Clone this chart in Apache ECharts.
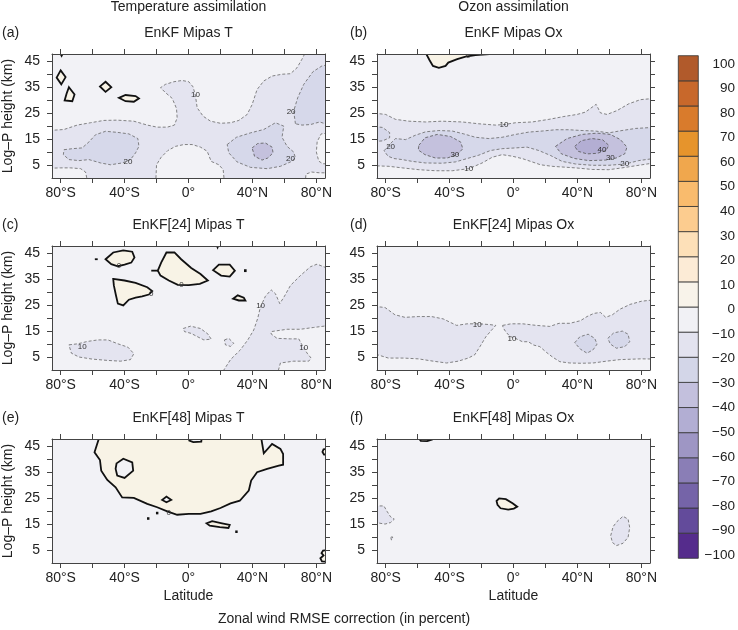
<!DOCTYPE html>
<html lang="en">
<head>
<meta charset="UTF-8">
<title>Zonal wind RMSE correction</title>
<script src="https://cdn.jsdelivr.net/npm/echarts@6/dist/echarts.min.js"></script>
<style>
  html, body { margin: 0; padding: 0; background: #fff; }
  #chart { width: 738px; height: 630px; }
</style>
</head>
<body>
<div id="chart"></div>
<script>
// axis ticks / labels
var latTicks = [-80, -60, -40, -20, 0, 20, 40, 60, 80];
var latLabels = [-80, -40, 0, 40, 80];
var kmTicks = [5, 10, 15, 20, 25, 30, 35, 40, 45];
var kmLabels = [5, 15, 25, 35, 45];
var cbLevels = [-100, -90, -80, -70, -60, -50, -40, -30, -20, -10, 0, 10, 20, 30, 40, 50, 60, 70, 80, 90];
var cbColors = ['#552c8c', '#634b9b', '#7564a8', '#8a7eb6', '#9e96c4', '#b2aed3', '#c3c0dd', '#d3d6e8', '#e3e3ef', '#f1f1f5',
                '#f8f3ea', '#fcebd6', '#fde0b8', '#fccc8f', '#f9bb6d', '#f0a74d', '#e6942c', '#d97b2c', '#c8682b', '#b15a2b'];

// contour regions, [latitude, km]
// (a) EnKF Mipas T
var aM10 = [[[-90,18.2],[-77.9,18.7],[-69.6,20.4],[-61.3,21.3],[-52.9,22.2],[-44.6,22.3],[-34.2,21.9],[-25.8,20.4],[-19.6,19.6],[-13.3,19.6],[-8.8,20.4],[-7.1,23.2],[-7.5,26.8],[-10.2,30.7],[-14.4,32.9],[-17.5,34.8],[-14.4,36.1],[-9.2,37.1],[-4.0,37.6],[0.2,37.1],[2.9,35.1],[4.4,31.6],[5.4,27.1],[9.2,23.8],[13.8,21.9],[20.0,21.1],[26.3,21.3],[31.5,22.2],[36.7,24.5],[39.8,28.3],[42.9,34.1],[47.1,37.4],[52.3,39.3],[58.5,40.0],[63.8,40.2],[67.9,42.5],[71.0,45.8],[74.5,50],[90,50],[90,-2],[-90,-2]]];
var aHole = [
  [[-90,3.7],[-80,3.9],[-73.8,3.9],[-67.5,3.6],[-64.4,2.3],[-63,-2],[-90,-2]],
  [[-20.5,-2],[-20.0,5.1],[-17.1,8.0],[-12.9,10.6],[-8.1,12.2],[-2.9,12.9],[2.3,12.9],[7.5,11.9],[11.7,10.3],[14.2,6.4],[19.0,5.1],[21.7,3.2],[22.5,-2]],
  [[90,17.5],[83,17.0],[80.5,14],[80,10],[81.5,6.5],[84,5.5],[90,5.5]],
  [[73,-2],[73.5,1.5],[77,2.3],[82,2.0],[90,2.0],[90,-2]]
];
var aM20 = [
  [[-77.9,10.9],[-72.7,11.3],[-66.5,11.6],[-62.3,13.9],[-58.1,16.7],[-51.9,18.0],[-44.6,17.6],[-37.3,17.0],[-31.7,15.2],[-31.0,12.2],[-33.1,9.7],[-36.3,7.1],[-41.5,5.8],[-48.8,5.1],[-55.0,5.8],[-62.3,7.1],[-68.5,6.7],[-74.8,7.1],[-78.3,9.0]],
  [[24.2,12.9],[30.0,15.7],[38.8,17.4],[47.1,18.7],[54.4,21.3],[59.6,20.0],[58.5,15.7],[61.7,12.2],[65.8,10.0],[66.9,7.7],[63.8,6.2],[57.5,4.5],[49.2,3.6],[38.8,4.1],[30.4,6.2],[25.2,9.7]],
  [[66.9,20.9],[65.8,25.8],[68.3,30.9],[72.1,36.1],[77.9,41.0],[83.5,43.2],[90,44],[90,20],[82.1,21.6],[76.3,20.6],[71.0,20.4]]
];
var aM30 = [[[39.8,11.6],[43.3,13.3],[48.1,13.5],[52.3,11.9],[52.9,9.7],[49.6,7.7],[46.0,6.9],[41.3,8.4]]];
var aPos = [
  [[-80,41.5],[-76.9,38.9],[-79.6,36.1],[-82.5,38.7]],
  [[-74.8,35.0],[-71.3,32.2],[-72.7,29.6],[-77.5,29.9],[-76.3,32.5]],
  [[-51.9,37.1],[-48.3,35.0],[-51.9,33.2],[-55.4,35.3]],
  [[-43.5,30.9],[-39.4,32.0],[-33.1,31.6],[-31.0,30.7],[-34.2,29.4],[-39.4,29.6]],
  [[-80.6,48.5],[-79.4,47.1],[-78.2,48.5]]
];
var aLab = [[4.4,32.2,'10'],[-37.9,6.4,'20'],[63.8,7.5,'20'],[64.2,25.5,'20']];

// (b) EnKF Mipas Ox
var bM10 = [[[-90,25.2],[-80,24.5],[-73.8,22.6],[-65.4,21.9],[-55,21.6],[-44.6,21.9],[-32.1,21.6],[-21.7,20.9],[-11.3,20.4],[-6.0,20.6],[1.3,21.3],[11.7,21.6],[22.1,22.6],[31.5,23.7],[39.8,24.5],[45.0,25.4],[48.1,26.8],[51.7,28.4],[54.4,25.1],[58.5,24.5],[64.8,26.0],[72.1,28.6],[79.4,30.2],[90,30.8],
             [90,5.7],[86.7,5.7],[77.3,4.8],[67.9,3.9],[59.6,3.2],[49.2,3.3],[38.8,3.9],[24.2,4.5],[16.9,5.1],[11.7,6.2],[5.4,7.5],[-0.8,8.4],[-7.1,9.0],[-13.3,8.0],[-19.6,5.8],[-27.9,3.6],[-38.3,2.8],[-48.8,2.8],[-59.2,3.2],[-69.6,3.9],[-77.9,4.5],[-90,4.8]]];
var bM20 = [
  [[-90,20],[-82,19.5],[-77.5,17.5],[-77.5,15.5],[-82,14.3],[-90,14]],
  [[-81,10.5],[-78.5,12.2],[-75.5,14.2],[-73.8,15.2],[-67.5,14.8],[-61.3,16.5],[-55,17.8],[-46.7,18.3],[-38.3,18.1],[-31.1,17.0],[-23.8,15.7],[-15.4,15.2],[-7.1,15.7],[1.3,16.8],[9.6,17.7],[17.9,18.1],[26.3,18.6],[34.6,18.6],[42.9,18.3],[51.3,18.1],[59.6,17.4],[67.9,18.3],[76.3,19.1],[90,19.6],
   [90,7.7],[78.3,6.7],[70.0,5.4],[59.6,4.9],[49.2,4.9],[38.8,5.4],[30.4,6.4],[23.1,8.7],[15.8,10.6],[8.5,11.9],[1.3,11.6],[-7.1,11.3],[-14.4,10.6],[-21.7,8.8],[-29.0,7.5],[-36.3,6.2],[-44.6,5.7],[-55,5.8],[-63.3,6.4],[-69.6,7.1],[-74.8,7.5],[-78.5,8.4]]
];
var bM30 = [
  [[-59.2,12.6],[-55.4,15.5],[-47.7,16.8],[-39.4,16.0],[-33.1,13.9],[-31.7,11.3],[-35.2,9.0],[-41.5,7.7],[-48.8,7.7],[-55.4,9.0],[-59.6,10.8]],
  [[26.3,12.2],[33.5,15.2],[42.9,16.8],[52.3,17.3],[60.6,16.8],[66.9,14.8],[71.0,11.9],[69.6,9.3],[64.2,7.7],[57.5,6.9],[47.1,6.7],[38.3,7.5],[30.0,9.3]]
];
var bM40 = [[[38.3,12.2],[42.5,14.4],[49.2,15.2],[55.8,14.7],[59.6,12.6],[57.9,10.6],[52.3,9.5],[46.0,9.3],[40.4,10.3]]];
var bPos = [[[-55,50],[-55,48.3],[-52.5,45.4],[-50.4,43.2],[-46.7,42.5],[-42.5,43.2],[-40.8,44.5],[-35.2,45.8],[-30.0,46.8],[-23.8,47.4],[-13.3,47.8],[-12.9,50]]];
var bLab = [[-6,20.6,'10'],[-28,3.4,'10'],[-76.9,12.2,'20'],[-36.7,8.8,'30'],[60.6,7.7,'30'],[69.6,5.5,'20'],[55.4,10.9,'40'],[-28.3,47.3,'0']];

// (c) EnKF[24] Mipas T
var cM10 = [
  [[-74.8,9.7],[-69.2,10.1],[-63.3,11.0],[-56.7,11.6],[-50.4,11.6],[-44.2,10.1],[-37.9,8.8],[-34.2,6.3],[-36.3,4.0],[-42.5,3.4],[-50.8,3.7],[-60.2,4.2],[-68.5,5.0],[-73.3,6.5]],
  [[-3.3,16.0],[1.3,16.9],[7.5,16.0],[12.1,13.9],[14.2,11.9],[9.6,11.6],[5.4,12.9],[1.7,14.1],[-2.5,14.8]],
  [[22.5,11.6],[25.2,12.2],[28.3,10.3],[26.3,9.1],[23.1,9.7]],
  [[20,-2],[26.3,4.0],[32.5,7.8],[37.1,11.6],[40.8,15.4],[43.3,19.9],[45.0,24.3],[48.1,28.4],[51.7,30.9],[54.4,29.4],[57.1,25.6],[60.0,28.4],[63.8,32.6],[70.0,36.4],[76.3,39.8],[80.4,40.8],[90,38.5],[90,-2]]
];
var cHole = [[[55.4,-2],[57.5,2.7],[65.8,3.4],[75.2,3.4],[76.7,4.6],[74.2,6.5],[71.0,9.7],[69.0,12.0],[63.8,12.0],[55.4,12.2],[51.7,13.9],[51.7,14.8],[61.7,15.7],[70.0,15.7],[78.3,16.4],[90,17.3],[90,-2]]];
var cPos = [
  [[-51.9,42.7],[-47.1,45.3],[-40.8,46.1],[-35.2,45.6],[-33.8,43.4],[-35.8,41.4],[-40.0,40.6],[-44.2,40.0],[-48.3,40.8]],
  [[-47.1,35.1],[-40.0,34.5],[-33.1,33.6],[-25.8,31.9],[-22.7,30.4],[-24.8,29.1],[-29.0,28.4],[-33.1,27.9],[-37.3,27.1],[-40.8,24.9],[-44.2,25.6],[-45.4,28.8],[-46.7,32.6]],
  [[-19.2,38.3],[-17.1,41.4],[-13.8,45.3],[-8.8,45.3],[-4.6,42.7],[1.7,39.3],[7.5,37.0],[12.1,34.5],[7.1,33.2],[0.2,32.7],[-6.7,32.8],[-12.3,34.5],[-17.5,36.4]],
  [[15.4,38.5],[19.0,40.6],[25.8,40.6],[29.0,38.3],[25.8,36.0],[20.4,36.4]],
  [[27.9,27.5],[30.8,28.8],[34.6,27.9],[35.6,26.8],[31.5,26.8]],
  [[17.4,48.5],[18.2,47.3],[19.0,48.5]],
  [[35.3,38.5],[35.8,38.5],[35.8,38.1],[35.3,38.1]]
];
var cLines = [[[-58.6,42.7],[-56.8,42.7]], [[-23.3,38.3],[-19.2,38.3]]];
var cLab = [[-43.5,40.0,'0'],[-23.3,29.4,'0'],[-4.4,32.8,'0'],[-66.5,9.1,'10'],[45.1,24.9,'10'],[72.1,8.4,'10']];

// (d) EnKF[24] Mipas Ox
var dM10 = [
  [[-90,24.7],[-80.4,24.1],[-74.2,21.3],[-67.9,20.3],[-59.6,20.6],[-51.3,20.6],[-44.0,19.7],[-35.6,17.2],[-29.0,17.8],[-21.1,17.8],[-14.8,17.5],[-11.1,17.2],[-13.8,15.3],[-17.3,12.8],[-21.0,9.0],[-24.2,5.9],[-28.3,4.6],[-34.6,3.4],[-41.9,2.7],[-50.2,3.4],[-59.6,4.3],[-69.0,4.6],[-78.3,4.6],[-90,6.8]],
  [[-6.8,17.2],[-1.6,17.8],[5.8,17.8],[14.2,17.2],[22.7,16.8],[28.5,18.0],[35.2,18.0],[41.9,19.0],[46.0,20.6],[50.2,21.8],[54.4,22.2],[57.7,20.3],[61.9,21.3],[66.5,23.4],[73,25.3],[80,26.5],[90,27.2],
   [90,4.2],[80,4.3],[66.5,4.0],[58.1,3.4],[49.8,2.7],[42.3,2.6],[35.2,2.7],[29.0,3.2],[24.4,5.0],[20.6,6.8],[16.5,9.0],[12.7,9.6],[9.2,10.9],[5.6,10.9],[1.5,12.1],[-2.3,13.0],[-4.8,14.7],[-6.5,16.3]]
];
var dM20 = [
  [[38.3,10.5],[41.5,12.8],[46.7,13.8],[50.8,12.2],[52.3,10.0],[49.8,7.8],[46.0,6.5],[41.9,8.0]],
  [[59.0,12.2],[62.7,14.3],[68.1,15.0],[71.7,13.8],[72.7,10.9],[69.6,9.0],[64.4,8.4],[60.6,10.0]]
];
var dLab = [[-22.7,17.5,'10'],[-1.0,11.9,'10']];

// (e) EnKF[48] Mipas T
var ePos = [
  [[-55,50],[-58.8,42.7],[-55.4,39.7],[-54.6,35.6],[-50.8,32.0],[-45.6,29.2],[-41.5,25.3],[-34.2,25.1],[-25.8,22.8],[-19.6,21.5],[-13.3,19.9],[-7.1,18.6],[0.2,18.9],[7.5,18.9],[14.2,19.9],[20.0,21.2],[26.3,23.0],[32.1,24.0],[37.7,27.9],[39.2,31.8],[42.9,35.0],[49.2,36.3],[56.5,37.5],[59.2,37.9],[59.2,42.0],[57.5,44.0],[52.3,45.9],[47.1,42.3],[45,50]],
  [[11.3,15.3],[14.8,16.1],[21.0,15.3],[25.8,14.7],[25.0,13.5],[19.6,13.8],[13.3,14.4]],
  [[90,44.2],[84.5,43.8],[83.8,42.8],[84.8,41.8],[90,41.6]],
  [[90,5.2],[84.2,4.8],[83.2,3.8],[84.5,2.9],[82.5,1.8],[83.5,0.6],[90,0.4]],
  [[-25.4,17.3],[-25.0,17.3],[-25.0,17.0],[-25.4,17.0]],
  [[-19.8,19.4],[-19.4,19.4],[-19.4,19.1],[-19.8,19.1]],
  [[29.8,12.2],[30.2,12.2],[30.2,11.9],[29.8,11.9]]
];
var eHole = [
  [[-45.0,38.4],[-40.8,40.2],[-35.2,38.8],[-34.6,35.6],[-40.0,32.8],[-44.6,33.7],[-45.6,36.3]],
  [[-16.5,24.3],[-13.8,25.6],[-10.8,24.3],[-13.8,23.4]],
  [[0,50],[0.5,47.2],[3,46.6],[8,46.8],[8.5,50]]
];
var eLab = [[-12.3,19.3,'0']];

// (f) EnKF[48] Mipas Ox
var fM10 = [
  [[-90,22.0],[-81.1,22.0],[-79.0,19.8],[-76.9,17.8],[-74.6,16.9],[-76.9,15.6],[-80.4,15.0],[-90,16.0]],
  [[-76.8,9.9],[-75.8,10.1],[-75.4,9.3],[-76.4,8.9]],
  [[60.8,10.5],[62.3,14.0],[64.8,16.0],[68.5,18.0],[71.7,16.9],[72.7,13.7],[71.7,9.9],[68.5,7.6],[64.4,6.7],[61.9,7.9]]
];
var fPos = [
  [[-59,50],[-59,47.9],[-58,47.1],[-54,47.0],[-51,47.6],[-51,50]],
  [[-10.6,23.9],[-9.0,24.9],[-4.8,24.6],[-0.6,23.0],[2.3,21.7],[0.2,21.0],[-3.3,20.6],[-8.1,21.1],[-10.0,22.4]]
];

var panels = [
  {tag: '(a)', title: 'EnKF Mipas T',      m10: aM10, hole: aHole, m20: aM20, m30: aM30, m40: [],   pos: aPos, posHole: [],    lines: [],     lab: aLab},
  {tag: '(b)', title: 'EnKF Mipas Ox',     m10: bM10, hole: [],    m20: bM20, m30: bM30, m40: bM40, pos: bPos, posHole: [],    lines: [],     lab: bLab},
  {tag: '(c)', title: 'EnKF[24] Mipas T',  m10: cM10, hole: cHole, m20: [],   m30: [],   m40: [],   pos: cPos, posHole: [],    lines: cLines, lab: cLab},
  {tag: '(d)', title: 'EnKF[24] Mipas Ox', m10: dM10, hole: [],    m20: dM20, m30: [],   m40: [],   pos: [],   posHole: [],    lines: [],     lab: dLab},
  {tag: '(e)', title: 'EnKF[48] Mipas T',  m10: [],   hole: [],    m20: [],   m30: [],   m40: [],   pos: ePos, posHole: eHole, lines: [],     lab: eLab},
  {tag: '(f)', title: 'EnKF[48] Mipas Ox', m10: fM10, hole: [],    m20: [],   m30: [],   m40: [],   pos: fPos, posHole: [],    lines: [],     lab: []}
];

var FONT = 'Liberation Sans, Arial, Helvetica, sans-serif';
var BG = '#f2f2f6';
var DASH = [3, 2];
var styles = {
  m10:     {fill: '#e4e4f0', stroke: '#666', lw: 0.8, dash: DASH},
  hole:    {fill: BG,        stroke: '#666', lw: 0.8, dash: DASH},
  m20:     {fill: '#d6d8ea', stroke: '#666', lw: 0.8, dash: DASH},
  m30:     {fill: '#c4c1dd', stroke: '#555', lw: 0.8, dash: DASH},
  m40:     {fill: '#b3aed3', stroke: '#555', lw: 0.8, dash: DASH},
  pos:     {fill: '#f8f3e6', stroke: '#111', lw: 1.8, dash: null},
  posHole: {fill: BG,        stroke: '#111', lw: 1.8, dash: null}
};
var layerOrder = ['m10', 'hole', 'm20', 'm30', 'm40', 'pos', 'posHole'];

var colLeft = [52, 377], rowTop = [54, 246, 439], W = 273, H = 124;

function latFmt(v) { return v === 0 ? '0°' : (v < 0 ? (-v) + '°S' : v + '°N'); }

var grids = [], xAxes = [], yAxes = [], series = [];
var titles = [
  {text: 'Temperature assimilation', left: 188.5, top: 0, textAlign: 'center'},
  {text: 'Ozon assimilation', left: 513.5, top: 0, textAlign: 'center'},
  {text: 'Zonal wind RMSE correction (in percent)', left: 344, top: 612, textAlign: 'center'}
];
var tickStyle = {color: '#444', width: 1};

panels.forEach(function (p, i) {
  var col = i % 2, row = Math.floor(i / 2);
  var left = colLeft[col], top = rowTop[row];
  grids.push({left: left, top: top, width: W, height: H, show: true, backgroundColor: BG, borderWidth: 0});
  titles.push({text: p.title, left: left + W / 2, top: top - 28, textAlign: 'center'});
  titles.push({text: p.tag, left: col === 0 ? 2 : 350, top: top - 28});

  var xBase = {
    gridIndex: i, type: 'value', min: -85.4, max: 85.4, z: 10,
    axisLine: {show: true, onZero: false, lineStyle: tickStyle},
    axisTick: {show: true, inside: false, length: 5, customValues: latTicks, lineStyle: tickStyle},
    splitLine: {show: false}
  };
  xAxes.push(Object.assign({}, xBase, {
    position: 'bottom',
    axisLabel: {customValues: latLabels, formatter: latFmt, fontSize: 14, color: '#222', margin: 8, fontFamily: FONT},
    name: row === 2 ? 'Latitude' : '', nameLocation: 'middle', nameGap: 26,
    nameTextStyle: {fontSize: 14, color: '#222', fontFamily: FONT}
  }));
  xAxes.push(Object.assign({}, xBase, {position: 'top', axisLabel: {show: false}}));

  var yBase = {
    gridIndex: i, type: 'value', min: 0, max: 47.8, z: 10,
    axisLine: {show: true, onZero: false, lineStyle: tickStyle},
    axisTick: {show: true, inside: false, length: 5, customValues: kmTicks, lineStyle: tickStyle},
    splitLine: {show: false}
  };
  yAxes.push(Object.assign({}, yBase, {
    position: 'left',
    axisLabel: {customValues: kmLabels, fontSize: 14, color: '#222', margin: 12, fontFamily: FONT},
    name: col === 0 ? 'Log\u2013P height (km)' : '', nameLocation: 'middle', nameGap: 37, nameRotate: 90,
    nameTextStyle: {fontSize: 14, color: '#222', fontFamily: FONT}
  }));
  yAxes.push(Object.assign({}, yBase, {position: 'right', axisLabel: {show: false}}));

  layerOrder.forEach(function (key) {
    var list = p[key], st = styles[key];
    if (!list.length) return;
    series.push({
      type: 'custom', xAxisIndex: 2 * i, yAxisIndex: 2 * i, clip: true, silent: true,
      data: list.map(function (poly) { return poly[0]; }),
      renderItem: function (params, api) {
        var pts = list[params.dataIndex].map(function (q) { return api.coord(q); });
        return {type: 'polygon', shape: {points: pts},
                style: {fill: st.fill, stroke: st.stroke, lineWidth: st.lw, lineDash: st.dash}};
      }
    });
  });
  if (p.lines.length) {
    series.push({
      type: 'custom', xAxisIndex: 2 * i, yAxisIndex: 2 * i, clip: true, silent: true,
      data: p.lines.map(function (l) { return l[0]; }),
      renderItem: function (params, api) {
        var pts = p.lines[params.dataIndex].map(function (q) { return api.coord(q); });
        return {type: 'polyline', shape: {points: pts}, style: {fill: null, stroke: '#111', lineWidth: 1.8}};
      }
    });
  }
  if (p.lab.length) {
    series.push({
      type: 'custom', xAxisIndex: 2 * i, yAxisIndex: 2 * i, clip: true, silent: true,
      data: p.lab.map(function (l) { return [l[0], l[1]]; }),
      renderItem: function (params, api) {
        var l = p.lab[params.dataIndex];
        var pt = api.coord([l[0], l[1]]);
        return {type: 'text', x: pt[0], y: pt[1],
                style: {text: l[2], fontSize: 8, fill: '#333', align: 'center', verticalAlign: 'middle', fontFamily: FONT}};
      }
    });
  }
});

// colour bar: boxes in grid 6, labels in grid 7
grids.push({left: 678.3, top: 55.7, width: 20, height: 502.6});
grids.push({left: 678.3, top: 64, width: 20, height: 491});
xAxes.push({gridIndex: 6, type: 'value', min: 0, max: 1, show: false});
yAxes.push({gridIndex: 6, type: 'value', min: -100, max: 100, show: false});
xAxes.push({gridIndex: 7, type: 'value', min: 0, max: 1, show: false});
yAxes.push({
  gridIndex: 7, type: 'value', min: -100, max: 100, interval: 10, position: 'right',
  axisLine: {show: false}, axisTick: {show: false}, splitLine: {show: false},
  axisLabel: {fontSize: 13.5, color: '#222', margin: 37, align: 'right', fontFamily: FONT,
              formatter: function (v) { return v < 0 ? '\u2212' + (-v) : String(v); }}
});
series.push({
  type: 'custom', xAxisIndex: 12, yAxisIndex: 12, silent: true,
  data: cbLevels.map(function (lv) { return [0, lv]; }),
  renderItem: function (params, api) {
    var lo = cbLevels[params.dataIndex];
    var a = api.coord([0, lo + 10]), b = api.coord([1, lo]);
    return {type: 'rect', shape: {x: a[0], y: a[1], width: b[0] - a[0], height: b[1] - a[1]},
            style: {fill: cbColors[params.dataIndex], stroke: '#333', lineWidth: 0.8}};
  }
});

titles.forEach(function (t) {
  t.padding = 0;
  t.textStyle = {fontSize: 14, fontWeight: 'normal', color: '#222', fontFamily: FONT};
});

var chart = echarts.init(document.getElementById('chart'), null, {renderer: 'canvas'});
chart.setOption({
  animation: false,
  backgroundColor: '#fff',
  title: titles,
  grid: grids,
  xAxis: xAxes,
  yAxis: yAxes,
  series: series
});
</script>
</body>
</html>
